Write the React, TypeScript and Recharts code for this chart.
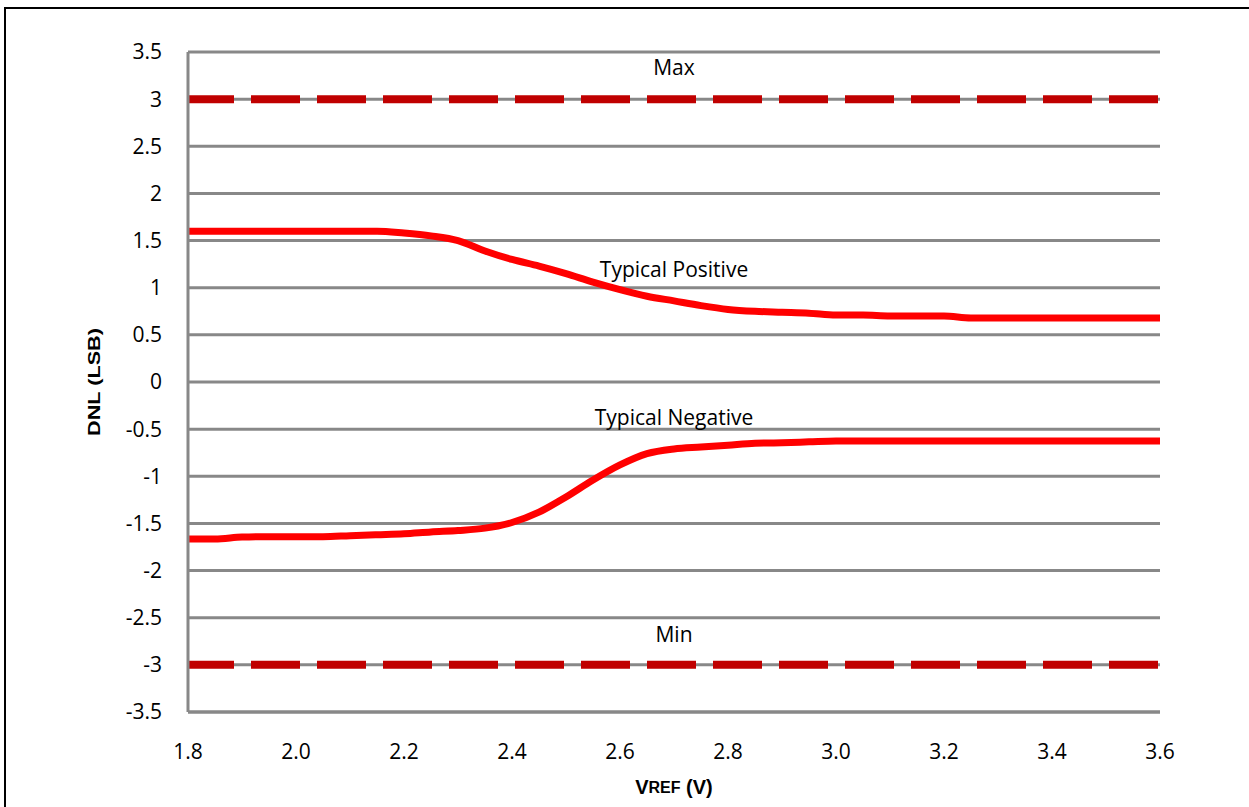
import React from "react"
import {
  LineChart,
  Line,
  XAxis,
  YAxis,
  CartesianGrid,
  ReferenceLine,
  ReferenceDot,
} from "recharts"

// VREF sweep (V)
const vref = [
  1.8, 1.85, 1.9, 1.95, 2.0, 2.05, 2.1, 2.15, 2.2, 2.25, 2.3, 2.35, 2.4, 2.45,
  2.5, 2.55, 2.6, 2.65, 2.7, 2.75, 2.8, 2.85, 2.9, 2.95, 3.0, 3.05, 3.1, 3.15,
  3.2, 3.25, 3.3, 3.35, 3.4, 3.45, 3.5, 3.55, 3.6,
]

// DNL typical positive (LSB)
const typPositive = [
  1.6, 1.6, 1.6, 1.6, 1.6, 1.6, 1.6, 1.6, 1.58, 1.55, 1.5, 1.39, 1.3, 1.23,
  1.15, 1.06, 0.98, 0.91, 0.86, 0.81, 0.77, 0.75, 0.74, 0.73, 0.71, 0.71, 0.7,
  0.7, 0.7, 0.68, 0.68, 0.68, 0.68, 0.68, 0.68, 0.68, 0.68,
]

// DNL typical negative (LSB)
const typNegative = [
  -1.665, -1.665, -1.645, -1.64, -1.64, -1.64, -1.63, -1.62, -1.61, -1.59,
  -1.575, -1.55, -1.49, -1.38, -1.22, -1.04, -0.88, -0.76, -0.71, -0.69, -0.67,
  -0.65, -0.645, -0.635, -0.625, -0.625, -0.625, -0.625, -0.625, -0.625, -0.625,
  -0.625, -0.625, -0.625, -0.625, -0.625, -0.625,
]

// spec limits
const maxLimit = 3
const minLimit = -3

const xTicks = [1.8, 2.0, 2.2, 2.4, 2.6, 2.8, 3.0, 3.2, 3.4, 3.6]
const yTicks = [
  -3.5, -3, -2.5, -2, -1.5, -1, -0.5, 0, 0.5, 1, 1.5, 2, 2.5, 3, 3.5,
]

const data = vref.map((v, i) => ({
  vref: v,
  pos: typPositive[i],
  neg: typNegative[i],
}))

const tickFont = "'Open Sans', sans-serif"
const gridGrey = "#888888"

const XLabel = (props: any) => {
  const vb = props.viewBox || {}
  const cx = vb.x + vb.width / 2
  const cy = vb.y + 75
  return (
    <text
      x={cx}
      y={cy}
      textAnchor="middle"
      dominantBaseline="central"
      fontFamily="'Liberation Sans', Arial, sans-serif"
      fontWeight="bold"
      fontSize={20}
      fill="#000"
    >
      V<tspan fontSize={16}>REF</tspan> (V)
    </text>
  )
}

const YLabel = (props: any) => {
  const vb = props.viewBox || {}
  const cx = 94.5
  const cy = vb.y + vb.height / 2
  return (
    <text
      x={cx}
      y={cy}
      transform={`rotate(-90, ${cx}, ${cy})`}
      textAnchor="middle"
      dominantBaseline="central"
      fontFamily="'Liberation Sans', Arial, sans-serif"
      fontWeight="bold"
      fontSize={16}
      textLength={108}
      lengthAdjust="spacingAndGlyphs"
      fill="#000"
    >
      DNL (LSB)
    </text>
  )
}

const noteStyle = {
  position: "center" as const,
  fill: "#000",
  fontSize: 21,
  fontFamily: tickFont,
}

export default function App() {
  return (
    <div
      style={{
        position: "absolute",
        left: 0,
        top: 0,
        width: 1249,
        height: 807,
        overflow: "hidden",
        background: "#fff",
      }}
    >
      <div
        style={{
          position: "absolute",
          left: 4,
          top: 7,
          width: 1300,
          height: 900,
          border: "2px solid #000",
        }}
      />
      <div style={{ position: "absolute", left: 0, top: 0 }}>
        <LineChart
          width={1249}
          height={807}
          data={data}
          margin={{ top: 52, right: 89, bottom: 0, left: 0 }}
        >
          <CartesianGrid
            vertical={false}
            stroke={gridGrey}
            strokeWidth={3}
          />
          <XAxis
            dataKey="vref"
            type="number"
            domain={[1.8, 3.6]}
            ticks={xTicks}
            tickFormatter={(v: number) => v.toFixed(1)}
            height={95}
            tickLine={false}
            tickSize={0}
            tickMargin={32}
            axisLine={{ stroke: gridGrey, strokeWidth: 3 }}
            tick={{ fill: "#000", fontSize: 21, fontFamily: tickFont }}
            label={<XLabel />}
          />
          <YAxis
            type="number"
            domain={[-3.5, 3.5]}
            ticks={yTicks}
            width={188}
            tickLine={false}
            tickSize={0}
            tickMargin={26}
            axisLine={{ stroke: gridGrey, strokeWidth: 3 }}
            tick={{ fill: "#000", fontSize: 21, fontFamily: tickFont }}
            label={<YLabel />}
          />
          <ReferenceLine
            y={maxLimit}
            stroke="#C00000"
            strokeWidth={8}
            strokeDasharray="49 17"
            strokeDashoffset={3}
          />
          <ReferenceLine
            y={minLimit}
            stroke="#C00000"
            strokeWidth={8}
            strokeDasharray="49 17"
            strokeDashoffset={3}
          />
          <Line
            type="monotone"
            dataKey="pos"
            stroke="#FF0000"
            strokeWidth={7}
            dot={false}
            isAnimationActive={false}
          />
          <Line
            type="monotone"
            dataKey="neg"
            stroke="#FF0000"
            strokeWidth={7}
            dot={false}
            isAnimationActive={false}
          />
          <ReferenceDot x={2.7} y={3.34} r={0} fill="none" stroke="none" label={{ value: "Max", ...noteStyle }} />
          <ReferenceDot x={2.7} y={1.19} r={0} fill="none" stroke="none" label={{ value: "Typical Positive", ...noteStyle }} />
          <ReferenceDot x={2.7} y={-0.38} r={0} fill="none" stroke="none" label={{ value: "Typical Negative", ...noteStyle }} />
          <ReferenceDot x={2.7} y={-2.68} r={0} fill="none" stroke="none" label={{ value: "Min", ...noteStyle }} />
        </LineChart>
      </div>
    </div>
  )
}
